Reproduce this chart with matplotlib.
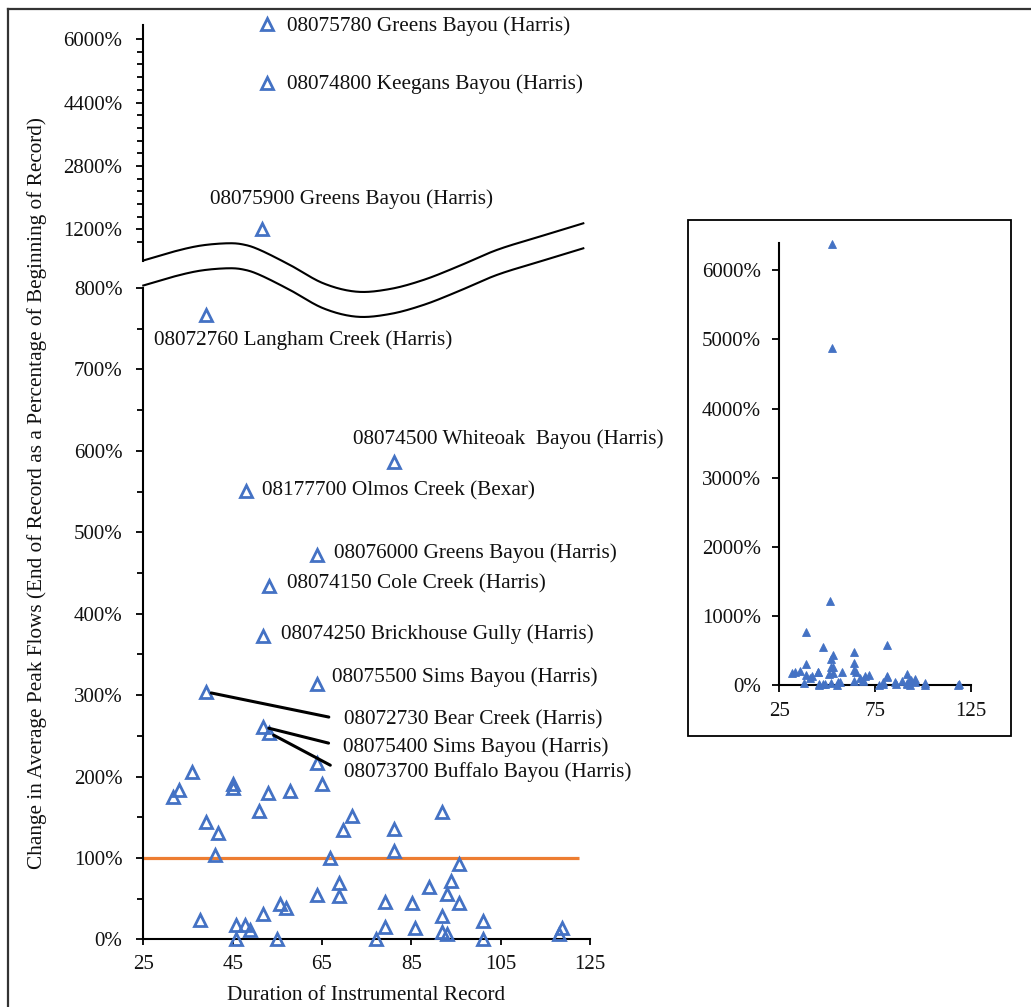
import numpy as np
import matplotlib
matplotlib.use('Agg')
import matplotlib.pyplot as plt
from matplotlib.patches import Rectangle

plt.rcParams['font.family'] = ['Liberation Serif', 'DejaVu Serif']

# ---------------- data ----------------
label_names = [
    "08075780 Greens Bayou (Harris)", "08074800 Keegans Bayou (Harris)",
    "08075900 Greens Bayou (Harris)", "08072760 Langham Creek (Harris)",
    "08074500 Whiteoak  Bayou (Harris)", "08177700 Olmos Creek (Bexar)",
    "08076000 Greens Bayou (Harris)", "08074150 Cole Creek (Harris)",
    "08074250 Brickhouse Gully (Harris)", "08075500 Sims Bayou (Harris)",
    "08072730 Bear Creek (Harris)", "08075400 Sims Bayou (Harris)",
    "08073700 Buffalo Bayou (Harris)"]
label_years = [52.7, 52.7, 51.6, 39.1, 81.1, 47.9, 63.9, 53.1, 51.9, 63.9, 39.0, 51.9, 53.1]
label_change = [6380, 4880, 1210, 767, 586, 551, 472, 434, 373, 314, 304, 261, 254]

other_years = [31.7, 33.1, 35.8, 37.7, 39.0, 41.0, 41.8, 45.0, 45.0, 45.7, 45.7, 47.8,
               48.9, 51.0, 51.9, 53.0, 55.0, 55.7, 56.9, 57.8, 63.8, 63.8, 64.9, 66.9,
               68.9, 68.9, 69.8, 71.8, 77.0, 79.0, 79.0, 81.1, 81.1, 85.1, 85.8, 89.0,
               91.8, 91.8, 91.8, 92.9, 93.0, 93.8, 95.7, 95.7, 101.0, 101.0, 118.0, 118.7]
other_change = [175, 184, 205, 24, 144, 103, 131, 191, 186, 17, 0, 18,
                12, 158, 31, 180, 0, 43, 39, 182, 55, 217, 191, 100,
                53, 69, 134, 151, 0, 15, 46, 136, 109, 44, 13.5, 64,
                156, 29, 9, 56, 6, 72, 92, 45, 22, 0, 6, 13.5]

ref_x = [25, 122.5]
ref_y = [100, 100]

lower_ticks = [0, 100, 200, 300, 400, 500, 600, 700, 800]
upper_ticks = [1200, 2800, 4400, 6000]
inset_yticks = [0, 1000, 2000, 3000, 4000, 5000, 6000]
main_xticks = [25, 45, 65, 85, 105, 125]
inset_xticks = [25, 75, 125]

all_years = label_years + other_years
all_change = label_change + other_change

# broken-axis mapping (display units)
def disp(v):
    v = np.asarray(v, dtype=float)
    return np.interp(v, [0, 800, 1200, 6000, 8000], [0, 8, 8.72, 11.06, 12.035])

def upper_lin(v):
    v = np.asarray(v, dtype=float)
    return 8.72 + (v - 1200) * (0.78 / 1600)

W, H = 1031, 1007
fig = plt.figure(figsize=(W / 100, H / 100), dpi=100)
fig.patch.set_facecolor('white')

FS = 15
FSL = 15.3
BLUE = '#4472C4'
TXT = '#111111'

# ---------------- main axes ----------------
ax = fig.add_axes([143.3 / W, (H - 939.3) / H, (590 - 143.3) / W, 929.3 / H])
ax.set_xlim(25, 125)
ax.set_ylim(0, 929.3 / 81.4)
ax.patch.set_alpha(0)
for s in ['top', 'right', 'left']:
    ax.spines[s].set_visible(False)
ax.spines['bottom'].set_linewidth(1.5)

ax.plot(ref_x, disp(ref_y), color='#ED7D31', lw=2.3, zorder=2, solid_capstyle='butt')
ax.plot(all_years, disp(all_change), linestyle='none', marker='^', ms=8.5, mew=2.0,
        mfc='none', mec=BLUE, zorder=3, clip_on=False)

# left axis segments
ytr = ax.get_yaxis_transform()
ax.plot([0, 0], [0, 8], color='black', lw=1.5, transform=ytr, clip_on=False, zorder=4)
ax.plot([0, 0], [(939.3 - 261) / 81.4, (939.3 - 25) / 81.4], color='black', lw=1.5,
        transform=ytr, clip_on=False, zorder=4)

major_pos = list(disp(lower_ticks)) + list(disp(upper_ticks))
major_lab = [f"{v}%" for v in lower_ticks + upper_ticks]
ax.set_yticks(major_pos)
ax.set_yticklabels(major_lab)
minor_lower = disp(np.arange(50, 800, 100))
minor_upper = upper_lin([1200 + 320 * k for k in range(-1, 16) if k % 5 != 0])
ax.set_yticks(list(minor_lower) + list(minor_upper), minor=True)
ax.tick_params(axis='y', which='major', direction='out', length=5, width=1.3, pad=10,
               labelsize=FS, labelcolor=TXT)
ax.tick_params(axis='y', which='minor', direction='out', length=4, width=1.3)
ax.set_xticks(main_xticks)
ax.tick_params(axis='x', which='major', direction='out', length=4, width=1.3, pad=7,
               labelsize=FS, labelcolor=TXT)

# labels
offsets = [(20, -2.6), (20, -0.3), (-52, 29.7), (-52, -25), (-40.7, 23.4), (16.6, 0),
           (17.3, 1.6), (18, 1.7), (18, 1.7), (15.3, 6.6), (138, -28.3), (80, -20),
           (75.3, -40)]
leader = [False] * 10 + [True, True, True]
for name, xv, yv, off, ld in zip(label_names, label_years, label_change, offsets, leader):
    kw = {}
    if ld:
        kw['arrowprops'] = dict(arrowstyle='-', color='black', lw=2.2,
                                shrinkA=9, shrinkB=4, relpos=(0, 0.5))
    ax.annotate(name, xy=(xv, disp(yv)), xytext=off, textcoords='offset pixels',
                ha='left', va='center', fontsize=FSL, color=TXT,
                annotation_clip=False, **kw)

# ---------------- inset ----------------
axi = fig.add_axes([779.3 / W, (H - 685) / H, (971 - 779.3) / W, 442.3 / H])
axi.set_xlim(25, 125)
axi.set_ylim(0, 6400)
axi.patch.set_alpha(0)
for s in ['top', 'right']:
    axi.spines[s].set_visible(False)
for s in ['left', 'bottom']:
    axi.spines[s].set_linewidth(1.5)
axi.plot(all_years, all_change, linestyle='none', marker='^', ms=5.2, mew=0.6,
         mfc=BLUE, mec=BLUE, clip_on=False, zorder=3)
axi.set_yticks(inset_yticks)
axi.set_yticklabels([f"{v}%" for v in inset_yticks])
axi.set_xticks(inset_xticks)
axi.tick_params(axis='both', direction='out', length=5, width=1.3, labelsize=FS,
                labelcolor=TXT)
axi.tick_params(axis='y', pad=8)
axi.tick_params(axis='x', pad=7)

# ---------------- overlay (decorations) ----------------
ov = fig.add_axes([0, 0, 1, 1])
ov.set_xlim(0, W)
ov.set_ylim(H, 0)
ov.axis('off')


def catmull(pts, n=40):
    pts = np.asarray(pts, dtype=float)
    P = np.vstack([pts[0], pts, pts[-1]])
    out = []
    t = np.linspace(0, 1, n)[:, None]
    for i in range(1, len(P) - 2):
        p0, p1, p2, p3 = P[i - 1], P[i], P[i + 1], P[i + 2]
        out.append(0.5 * ((2 * p1) + (-p0 + p2) * t + (2 * p0 - 5 * p1 + 4 * p2 - p3) * t ** 2
                          + (-p0 + 3 * p1 - 3 * p2 + p3) * t ** 3))
    return np.vstack(out)


wave = [(143.3, 260.5), (173.3, 251.7), (200, 245.7), (226.7, 243.3), (243.3, 244.5),
        (260, 250), (290, 265), (323.3, 283.3), (356.7, 291.7), (390, 289),
        (423.3, 280), (456.7, 267), (496.7, 250), (540, 236.5), (583.3, 223.3)]
c = catmull(wave)
ov.plot(c[:, 0], c[:, 1], color='black', lw=1.5)
ov.plot(c[:, 0], c[:, 1] + 25, color='black', lw=1.5)

# inset frame and outer frame
ov.add_patch(Rectangle((688.3, 220), 1010.7 - 688.3, 735.7 - 220, fill=False,
                       ec='black', lw=1.3))
ov.plot([7.5, W], [9, 9], color='#333333', lw=1.6)
ov.plot([7.5, 7.5], [9, H], color='#333333', lw=1.6)

# axis titles
fig.text(37 / W, 1 - 493 / H,
         "Change in Average Peak Flows (End of Record as a Percentage of Beginning of Record)",
         rotation=90, ha='center', va='center', fontsize=FSL, color=TXT)
fig.text(366 / W, 1 - 995 / H, "Duration of Instrumental Record", ha='center',
         va='center', fontsize=FSL, color=TXT)

fig.savefig('out.png', dpi=100, facecolor='white')
